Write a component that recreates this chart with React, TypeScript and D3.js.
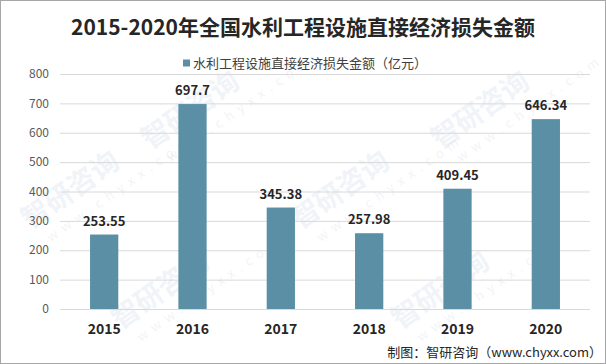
import { useEffect, useRef } from 'react'
import * as d3 from 'd3'

const years = ['2015', '2016', '2017', '2018', '2019', '2020']
const losses = [253.55, 697.7, 345.38, 257.98, 409.45, 646.34]
const valueLabels = ['253.55', '697.7', '345.38', '257.98', '409.45', '646.34']
const yTicks = [0, 100, 200, 300, 400, 500, 600, 700, 800]

const title = '2015-2020年全国水利工程设施直接经济损失金额'
const legendLabel = '水利工程设施直接经济损失金额（亿元）'
const source = '制图：智研咨询（www.chyxx.com）'

const W = 606
const H = 364
const font = '"Noto Sans CJK SC", "DejaVu Sans", sans-serif'

export default function App() {
  const svgRef = useRef<SVGSVGElement>(null)

  useEffect(() => {
    if (!svgRef.current) return
    const svg = d3.select(svgRef.current)
    svg.selectAll('*').remove()

    const margin = { top: 74, right: 16, bottom: 55, left: 60 }
    const width = W - margin.left - margin.right
    const height = H - margin.top - margin.bottom

    // background and border
    svg.append('rect')
      .attr('x', 0.5).attr('y', 0.5)
      .attr('width', W - 1).attr('height', H - 1)
      .attr('fill', '#fff')
      .attr('stroke', '#a6a6a6')

    // faint watermarks
    const marks = [[150, 150], [440, 150], [30, 230], [300, 230], [120, 330], [400, 330]]
    marks.forEach(([mx, my]) => {
      const g = svg.append('g')
        .attr('transform', `translate(${mx},${my}) rotate(-35)`)
        .attr('opacity', 0.07)
      g.append('text')
        .attr('font-family', font)
        .attr('font-size', 28)
        .attr('font-weight', 'bold')
        .attr('fill', '#3a6ea5')
        .text('智研咨询')
      g.append('text')
        .attr('y', 22)
        .attr('x', 10)
        .attr('font-family', font)
        .attr('font-size', 13)
        .attr('letter-spacing', 6)
        .attr('fill', '#3a6ea5')
        .text('www.chyxx.com')
    })

    const x = d3.scaleBand()
      .domain(years)
      .range([0, width])
      .paddingInner(0.68)
      .paddingOuter(0.34)

    const y = d3.scaleLinear()
      .domain([0, 800])
      .range([height, 0])

    const g = svg.append('g')
      .attr('transform', `translate(${margin.left},${margin.top})`)

    // gridlines
    g.append('g')
      .selectAll('line')
      .data(yTicks)
      .join('line')
      .attr('x1', 0)
      .attr('x2', width)
      .attr('y1', d => y(d) + 0.5)
      .attr('y2', d => y(d) + 0.5)
      .attr('stroke', '#d9d9d9')
      .attr('stroke-width', 1)

    // Y axis labels
    g.append('g')
      .selectAll('text')
      .data(yTicks)
      .join('text')
      .attr('x', -11)
      .attr('y', d => y(d))
      .attr('dy', '0.35em')
      .attr('text-anchor', 'end')
      .attr('font-family', font)
      .attr('font-size', 12)
      .attr('fill', '#595959')
      .text(d => d)

    // bars
    g.append('g')
      .selectAll('rect')
      .data(losses)
      .join('rect')
      .attr('x', (d, i) => x(years[i])!)
      .attr('y', d => y(d))
      .attr('width', x.bandwidth())
      .attr('height', d => height - y(d))
      .attr('fill', '#5b8fa6')

    // value labels
    g.append('g')
      .selectAll('text')
      .data(losses)
      .join('text')
      .attr('x', (d, i) => x(years[i])! + x.bandwidth() / 2)
      .attr('y', d => y(d) - 9)
      .attr('text-anchor', 'middle')
      .attr('font-family', font)
      .attr('font-size', 13)
      .attr('font-weight', 'bold')
      .attr('fill', '#262626')
      .text((d, i) => valueLabels[i])

    // X axis labels
    g.append('g')
      .selectAll('text')
      .data(years)
      .join('text')
      .attr('x', d => x(d)! + x.bandwidth() / 2)
      .attr('y', height + 20)
      .attr('dy', '0.35em')
      .attr('text-anchor', 'middle')
      .attr('font-family', font)
      .attr('font-size', 14)
      .attr('font-weight', 'bold')
      .attr('fill', '#262626')
      .text(d => d)

    // title
    svg.append('text')
      .attr('x', W / 2)
      .attr('y', 28)
      .attr('dy', '0.35em')
      .attr('text-anchor', 'middle')
      .attr('font-family', font)
      .attr('font-size', 21)
      .attr('font-weight', 'bold')
      .attr('fill', '#262626')
      .text(title)

    // legend
    const legend = svg.append('g').attr('transform', 'translate(183,63)')
    legend.append('rect')
      .attr('x', 0).attr('y', -3.5)
      .attr('width', 7).attr('height', 7)
      .attr('fill', '#5b8fa6')
    legend.append('text')
      .attr('x', 10)
      .attr('y', 0)
      .attr('dy', '0.35em')
      .attr('font-family', font)
      .attr('font-size', 13)
      .attr('fill', '#404040')
      .text(legendLabel)

    // source note
    svg.append('text')
      .attr('x', W - 4)
      .attr('y', 352)
      .attr('dy', '0.35em')
      .attr('text-anchor', 'end')
      .attr('font-family', font)
      .attr('font-size', 13)
      .attr('fill', '#262626')
      .text(source)
  }, [])

  return (
    <svg
      ref={svgRef}
      width={W}
      height={H}
      style={{ display: 'block', position: 'absolute', left: 0, top: 0 }}
    />
  )
}
